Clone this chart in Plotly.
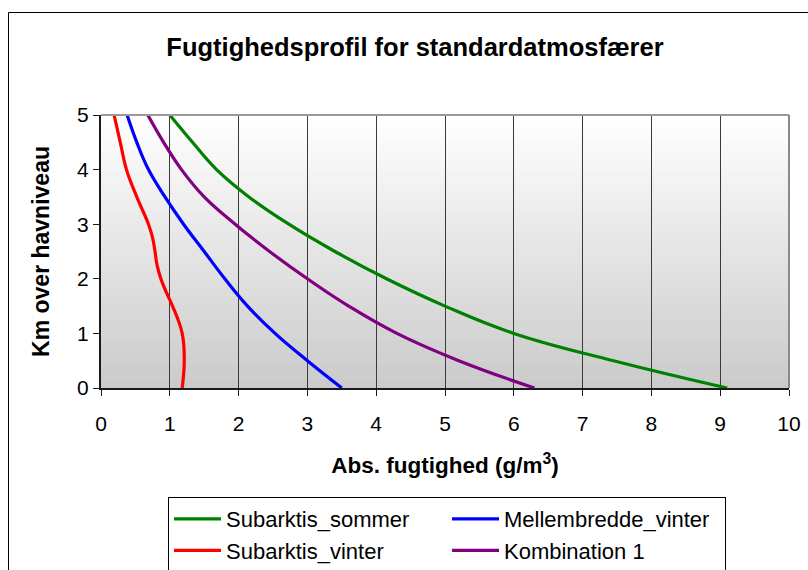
import plotly.graph_objects as go

# ---- data ----
heights = [0, 0.5, 1, 1.5, 2, 2.5, 3, 3.5, 4, 4.5, 5]
subarktis_sommer = [9.1, 7.45, 6.0, 5.0, 4.15, 3.4, 2.73, 2.15, 1.68, 1.33, 1.0]
mellembredde_vinter = [3.5, 3.0, 2.53, 2.13, 1.8, 1.5, 1.2, 0.93, 0.69, 0.52, 0.38]
kombination_1 = [6.3, 5.2, 4.3, 3.6, 3.0, 2.45, 1.95, 1.5, 1.17, 0.91, 0.68]
# the winter curve is read at a finer height step around its bend
heights_subarktis_vinter = [0, 0.5, 1, 1.5, 1.75, 2, 2.25, 2.5, 2.75, 3, 3.5, 4, 4.5, 5]
subarktis_vinter = [1.18, 1.21, 1.18, 1.04, 0.95, 0.87, 0.815, 0.785, 0.75, 0.69, 0.52, 0.37, 0.28, 0.19]

series_names = ["Subarktis_sommer", "Mellembredde_vinter", "Subarktis_vinter", "Kombination 1"]
series_values = [subarktis_sommer, mellembredde_vinter, subarktis_vinter, kombination_1]
series_heights = [heights, heights, heights_subarktis_vinter, heights]
series_colors = ["#008000", "#0000ff", "#ff0000", "#800080"]

x_ticks = list(range(0, 11))
y_ticks = list(range(0, 6))

title_text = "<b>Fugtighedsprofil for standardatmosfærer</b>"
x_title = "<b>Abs. fugtighed (g/m<sup>3</sup>)</b>"
y_title = "<b>Km over havniveau</b>"

FONT = "Liberation Sans, Arial, sans-serif"

fig = go.Figure()
for name, vals, hs, col in zip(series_names, series_values, series_heights, series_colors):
    fig.add_trace(go.Scatter(
        x=vals, y=hs, name=name, mode="lines",
        line=dict(color=col, width=3.2, shape="spline", smoothing=1.2),
        hoverinfo="skip",
    ))

# gradient background of the plot area (white at top -> grey at bottom)
shapes = []
N = 80
top = (255, 255, 255)
bot = (202, 202, 202)
for i in range(N):
    t = (i + 0.5) / N  # 0 at bottom, 1 at top
    c = tuple(round(bot[k] + (top[k] - bot[k]) * t) for k in range(3))
    shapes.append(dict(
        type="rect", xref="x domain", yref="y domain",
        x0=0, x1=1, y0=i / N, y1=(i + 1) / N + 0.002,
        fillcolor="rgb(%d,%d,%d)" % c, line=dict(width=0), layer="below",
    ))
# grey top and right frame of plot area
shapes.append(dict(type="line", xref="x domain", yref="y domain", x0=0, x1=1, y0=1, y1=1,
                   line=dict(color="#9a9a9a", width=2), layer="above"))
shapes.append(dict(type="line", xref="x domain", yref="y domain", x0=1, x1=1, y0=0, y1=1,
                   line=dict(color="#8a8a8a", width=2), layer="above"))
# outer chart border (only left and top edges visible)
W, H = 808, 570
L, R, T, B = 101, 19, 115, 182
pw, ph = W - L - R, H - T - B
def px2paper_x(px):
    return (px - L) / pw
def px2paper_y(py):
    return (H - B - py) / ph
shapes.append(dict(type="rect", xref="paper", yref="paper",
                   x0=px2paper_x(8.5), x1=px2paper_x(900),
                   y0=px2paper_y(700), y1=px2paper_y(12.5),
                   line=dict(color="#000000", width=1), fillcolor="rgba(0,0,0,0)", layer="above"))

fig.update_layout(
    width=W, height=H,
    margin=dict(l=L, r=R, t=T, b=B, pad=0, autoexpand=False),
    paper_bgcolor="white", plot_bgcolor="white",
    font=dict(family=FONT, color="black", size=21),
    title=dict(text=title_text, x=415 / W, xanchor="center", xref="container",
               y=1 - 47 / H, yanchor="middle", yref="container",
               font=dict(family=FONT, size=25.5, color="black")),
    shapes=shapes,
    showlegend=True,
    legend=dict(
        orientation="h",
        x=px2paper_x(168), xanchor="left",
        y=px2paper_y(497), yanchor="top",
        bordercolor="#000000", borderwidth=1, bgcolor="white",
        font=dict(family=FONT, size=22, color="black"),
        entrywidth=216, entrywidthmode="pixels",
        traceorder="normal", itemwidth=47,
        tracegroupgap=0,
    ),
)

fig.update_xaxes(
    range=[0, 10], tickvals=x_ticks, ticktext=[str(v) for v in x_ticks],
    showgrid=True, gridcolor="#3a3a3a", gridwidth=1,
    showline=True, linecolor="#1a1a1a", linewidth=2,
    ticks="outside", ticklen=6, tickcolor="#1a1a1a", tickwidth=1,
    zeroline=False, fixedrange=True, ticklabelstandoff=10,
    tickfont=dict(family=FONT, size=21),
    title=dict(text=x_title, font=dict(family=FONT, size=22.5), standoff=23),
)
fig.update_yaxes(
    range=[0, 5], tickvals=y_ticks, ticktext=[str(v) for v in y_ticks],
    showgrid=False,
    showline=True, linecolor="#1a1a1a", linewidth=2,
    ticks="outside", ticklen=6, tickcolor="#1a1a1a", tickwidth=1,
    zeroline=False, fixedrange=True,
    tickfont=dict(family=FONT, size=21),
    title=dict(text=y_title, font=dict(family=FONT, size=23), standoff=21),
)

fig.write_html("out.html")
